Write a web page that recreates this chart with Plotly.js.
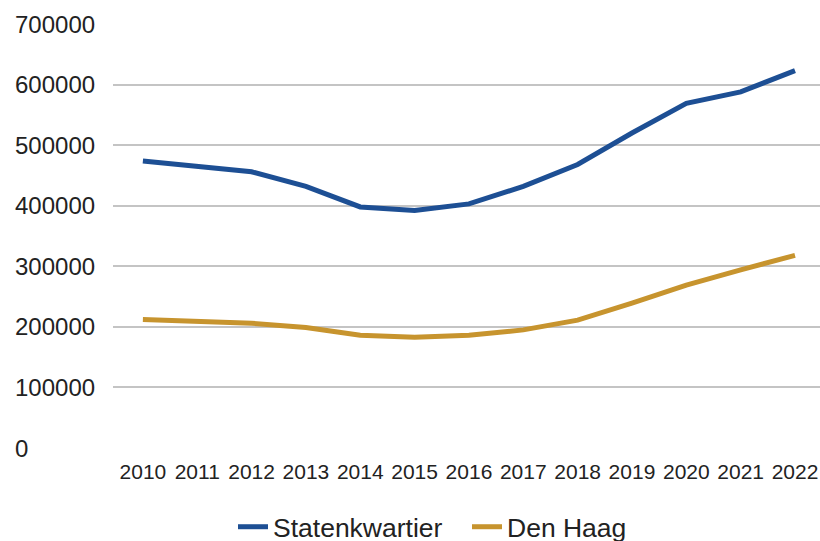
<!DOCTYPE html>
<html>
<head>
<meta charset="utf-8">
<script src="https://cdn.plot.ly/plotly-3.0.1.min.js"></script>
<style>html,body{margin:0;padding:0;background:#fff;}#chart{width:820px;height:541px;}</style>
</head>
<body>
<div id="chart"></div>
<script>
const years = ["2010","2011","2012","2013","2014","2015","2016","2017","2018","2019","2020","2021","2022"];
const statenkwartier = [474000, 464000, 456000, 432000, 398000, 392000, 403000, 432000, 468000, 520000, 569000, 588000, 623000];
const denHaag = [212000, 209000, 206000, 199000, 186000, 183000, 186000, 195000, 211000, 239000, 269000, 294000, 318000];
const yTicks = [0, 100000, 200000, 300000, 400000, 500000, 600000, 700000];
const seriesNames = ["Statenkwartier", "Den Haag"];

const FONT = "Liberation Sans, Arial, sans-serif";
const L = 113, R = 0, T = 24, B = 93, W = 820, H = 541;
const pw = W - L - R;

const traces = [
  {x: years, y: statenkwartier, name: seriesNames[0], type: "scatter", mode: "lines",
   line: {color: "#1d4f94", width: 5}},
  {x: years, y: denHaag, name: seriesNames[1], type: "scatter", mode: "lines",
   line: {color: "#c7942e", width: 5}}
];

const annotations = yTicks.map(v => ({
  x: (13 - L) / pw, xref: "paper", xanchor: "left",
  y: v, yref: "y", yanchor: "middle",
  text: String(v), showarrow: false,
  font: {family: FONT, size: 24, color: "#222"}
}));

const layout = {
  width: W, height: H,
  margin: {l: L, r: R, t: T, b: B, pad: 0},
  paper_bgcolor: "#fff", plot_bgcolor: "#fff",
  showlegend: true,
  legend: {orientation: "h", xref: "container", yref: "container",
           x: 233 / W, xanchor: "left", y: 1 - 527 / H, yanchor: "middle",
           font: {family: FONT, size: 26.5, color: "#222"}, itemwidth: 30, tracegroupgap: 0,
           entrywidth: 189, entrywidthmode: "pixels"},
  xaxis: {type: "category", range: [-0.55, 12.46], showgrid: false, zeroline: false, showline: false,
          ticks: "outside", ticklen: 5, tickcolor: "rgba(0,0,0,0)",
          tickfont: {family: FONT, size: 21, color: "#222"}, fixedrange: true},
  yaxis: {range: [0, 700000], tickvals: yTicks, showticklabels: false, showgrid: true,
          gridcolor: "#c4c4c4", gridwidth: 2, zeroline: false, showline: false, ticks: "", fixedrange: true},
  annotations: annotations
};

Plotly.newPlot("chart", traces, layout, {displayModeBar: false, staticPlot: true});
</script>
</body>
</html>
